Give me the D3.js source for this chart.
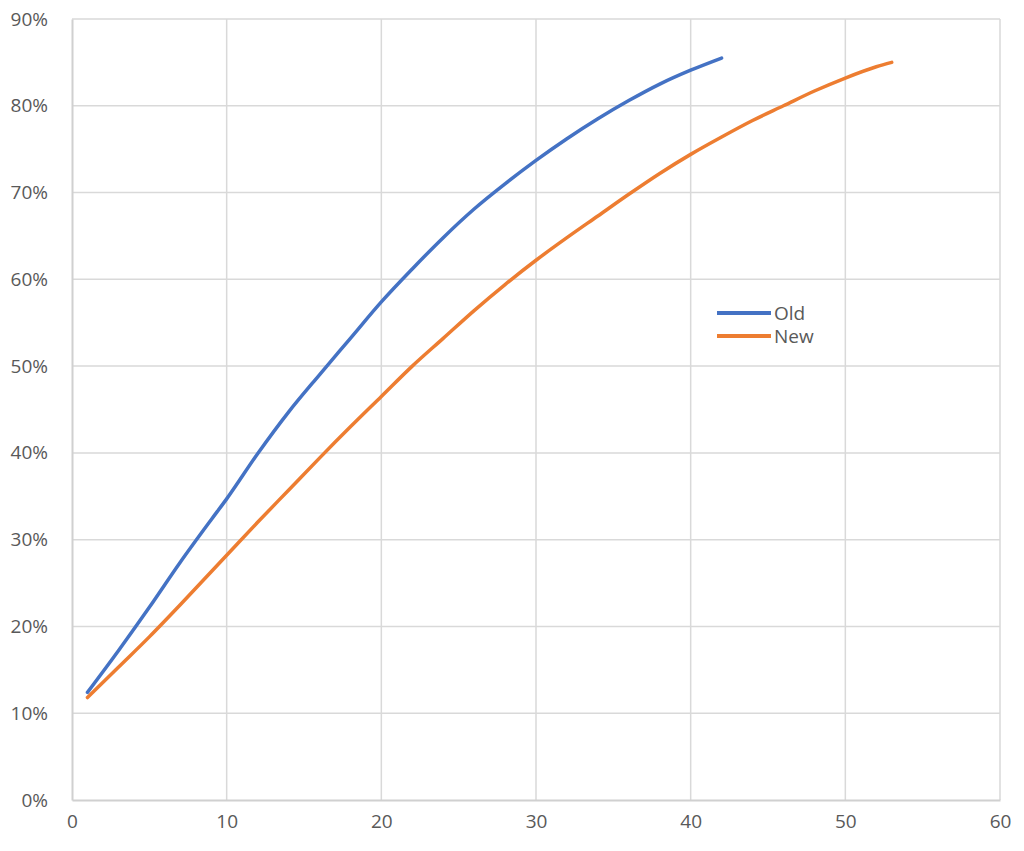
<!DOCTYPE html>
<html>
<head>
<meta charset="utf-8">
<script src="https://cdn.jsdelivr.net/npm/d3@7"></script>
<style>
  html, body { margin: 0; padding: 0; background: #fff; }
  svg { display: block; }
  text { font-family: "Open Sans", "Noto Sans", sans-serif; fill: #595959; }
</style>
</head>
<body>
<svg id="chart" width="1024" height="851"></svg>
<script>
const xTicks = [0, 10, 20, 30, 40, 50, 60];
const yTicks = [0, 0.1, 0.2, 0.3, 0.4, 0.5, 0.6, 0.7, 0.8, 0.9];

const oldX = [1, 3, 5, 7, 9, 10, 12, 14, 16, 18, 20, 22, 24, 26, 28, 30, 32, 34, 36, 38, 40, 42];
const oldY = [0.124, 0.172, 0.222, 0.274, 0.323, 0.347, 0.399, 0.447, 0.490, 0.532, 0.574, 0.612, 0.648, 0.681, 0.710, 0.737, 0.762, 0.785, 0.806, 0.825, 0.841, 0.855];

const newX = [1, 3, 5, 7, 9, 10, 12, 14, 16, 18, 20, 22, 24, 26, 28, 30, 32, 34, 36, 38, 40, 42, 44, 46, 48, 50, 52, 53];
const newY = [0.118, 0.153, 0.188, 0.225, 0.263, 0.282, 0.320, 0.357, 0.394, 0.430, 0.465, 0.500, 0.532, 0.564, 0.594, 0.622, 0.648, 0.673, 0.698, 0.722, 0.744, 0.764, 0.783, 0.800, 0.817, 0.832, 0.845, 0.850];

const seriesNames = ["Old", "New"];
const seriesColors = ["#4472C4", "#ED7D31"];

const svg = d3.select("#chart");
const mLeft = 72, mRight = 1000, mTop = 19, mBottom = 800;

const x = d3.scaleLinear().domain([0, 60]).range([mLeft, mRight]);
const y = d3.scaleLinear().domain([0, 0.9]).range([mBottom, mTop]);

// gridlines
const grid = svg.append("g");
grid.selectAll("line.h").data(yTicks.filter(d => d > 0)).enter().append("line")
  .attr("class", "h")
  .attr("x1", mLeft).attr("x2", mRight)
  .attr("y1", d => y(d)).attr("y2", d => y(d))
  .attr("stroke", "#d9d9d9").attr("stroke-width", 1.5);
grid.selectAll("line.v").data(xTicks.filter(d => d > 0)).enter().append("line")
  .attr("class", "v")
  .attr("y1", mTop).attr("y2", mBottom)
  .attr("x1", d => x(d)).attr("x2", d => x(d))
  .attr("stroke", "#d9d9d9").attr("stroke-width", 1.5);

// axes
const xAxis = d3.axisBottom(x).tickValues(xTicks).tickSize(0).tickPadding(24).tickFormat(d3.format("d"));
const gx = svg.append("g").attr("transform", `translate(0,${mBottom})`).call(xAxis);
gx.select(".domain").attr("stroke", "#d0d0d0").attr("stroke-width", 2);
gx.selectAll("text").style("font-size", "19px").style("font-family", "'Open Sans', sans-serif")
  .attr("fill", "#595959").attr("dy", "0.2em");

const yAxis = d3.axisLeft(y).tickValues(yTicks).tickSize(0).tickPadding(24).tickFormat(d3.format(".0%"));
const gy = svg.append("g").attr("transform", `translate(${mLeft},0)`).call(yAxis);
gy.select(".domain").attr("stroke", "#d0d0d0").attr("stroke-width", 2);
gy.selectAll("text").style("font-size", "19px").style("font-family", "'Open Sans', sans-serif")
  .attr("fill", "#595959");

// lines
const line = d3.line().x(d => x(d[0])).y(d => y(d[1])).curve(d3.curveMonotoneX);
const seriesData = [
  oldX.map((v, i) => [v, oldY[i]]),
  newX.map((v, i) => [v, newY[i]])
];
svg.append("g").selectAll("path").data(seriesData).enter().append("path")
  .attr("d", line)
  .attr("fill", "none")
  .attr("stroke", (d, i) => seriesColors[i])
  .attr("stroke-width", 3.5)
  .attr("stroke-linecap", "round")
  .attr("stroke-linejoin", "round");

// legend
const legend = svg.append("g").attr("transform", "translate(717,313)");
const items = legend.selectAll("g").data(seriesNames).enter().append("g")
  .attr("transform", (d, i) => `translate(0,${i * 23})`);
items.append("line").attr("x1", 0).attr("x2", 54).attr("y1", 0).attr("y2", 0)
  .attr("stroke", (d, i) => seriesColors[i]).attr("stroke-width", 4);
items.append("text").attr("x", 57).attr("y", 0).attr("dy", "0.35em")
  .style("font-size", "19px").text(d => d);
</script>
</body>
</html>
